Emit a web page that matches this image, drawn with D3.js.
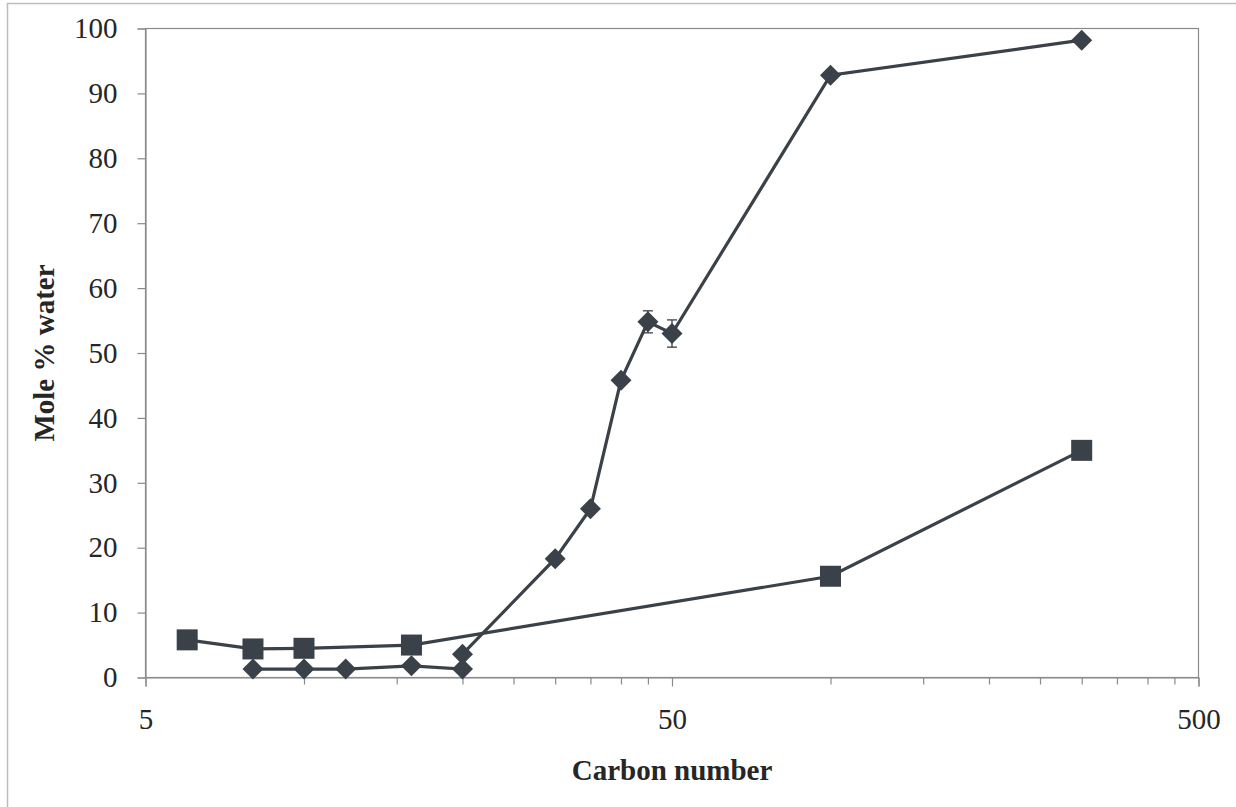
<!DOCTYPE html>
<html>
<head>
<meta charset="utf-8">
<script src="https://cdn.jsdelivr.net/npm/d3@7/dist/d3.min.js"></script>
<style>
  body { margin: 0; background: #fff; }
  svg text { font-family: 'Liberation Serif', 'Times New Roman', serif; }
</style>
</head>
<body>
<div id="chart"></div>
<script>
  // Square series (carbon number, mole % water)
  const squareCarbon = [6, 8, 10, 16, 100, 300];
  const squareWater = [5.8, 4.4, 4.5, 5.0, 15.6, 35.0];

  // Diamond series, with error bars on a couple of points
  const diamondCarbon = [8, 10, 12, 16, 20, 20, 30, 35, 40, 45, 50, 100, 300];
  const diamondWater = [1.3, 1.3, 1.3, 1.8, 1.3, 3.6, 18.3, 26.0, 45.8, 54.8, 53.0, 92.8, 98.2];
  const diamondErr = [0, 0, 0, 0, 0, 0, 0, 0, 0, 1.7, 2.1, 0, 0];

  const xMajorTicks = [5, 50, 500];
  const xMinorTicks = [10, 15, 20, 25, 30, 35, 40, 45, 100, 150, 200, 250, 300, 350, 400, 450];
  const yTicks = [0, 10, 20, 30, 40, 50, 60, 70, 80, 90, 100];

  const W = 1236, H = 807;
  const plot = { left: 145.5, top: 28.5, right: 1198.5, bottom: 677.5 };
  const ink = '#3b4148';
  const serif = "'Liberation Serif', 'Times New Roman', serif";

  const svg = d3.select('#chart').append('svg')
    .attr('width', W)
    .attr('height', H);

  // outer chart border
  svg.append('rect')
    .attr('x', 7.5).attr('y', 3.5)
    .attr('width', W + 20).attr('height', H + 20)
    .attr('fill', 'none')
    .attr('stroke', '#bdbdbd')
    .attr('stroke-width', 1.5);

  const x = d3.scaleLog().domain([5, 500]).range([plot.left, plot.right]);
  const y = d3.scaleLinear().domain([0, 100]).range([plot.bottom, plot.top]);

  // plot area frame
  svg.append('rect')
    .attr('x', plot.left).attr('y', plot.top)
    .attr('width', plot.right - plot.left)
    .attr('height', plot.bottom - plot.top)
    .attr('fill', 'none')
    .attr('stroke', '#8a8a8a')
    .attr('stroke-width', 1.2);

  // y axis
  const yAxis = svg.append('g')
    .attr('transform', `translate(${plot.left},0)`)
    .call(d3.axisLeft(y).tickValues(yTicks).tickSize(8).tickPadding(20));
  yAxis.attr('font-family', null);
  yAxis.select('.domain').attr('stroke', '#8a8a8a').attr('stroke-width', 1.2);
  yAxis.selectAll('.tick line').attr('stroke', '#8a8a8a').attr('stroke-width', 1.2);
  yAxis.selectAll('text')
    .style('font-family', serif)
    .style('font-size', '29px')
    .attr('fill', '#262626');

  // x axis, major ticks with labels
  const xAxis = svg.append('g')
    .attr('transform', `translate(0,${plot.bottom})`)
    .call(d3.axisBottom(x).tickValues(xMajorTicks).tickFormat(d3.format('d')).tickSize(9).tickPadding(22));
  xAxis.attr('font-family', null);
  xAxis.select('.domain').attr('stroke', '#8a8a8a').attr('stroke-width', 1.2);
  xAxis.selectAll('.tick line').attr('stroke', '#8a8a8a').attr('stroke-width', 1.2);
  xAxis.selectAll('text')
    .style('font-family', serif)
    .style('font-size', '29px')
    .attr('fill', '#262626');

  // x minor ticks
  const xMinor = svg.append('g')
    .attr('transform', `translate(0,${plot.bottom})`)
    .call(d3.axisBottom(x).tickValues(xMinorTicks).tickFormat('').tickSize(7));
  xMinor.select('.domain').remove();
  xMinor.selectAll('.tick line').attr('stroke', '#8a8a8a').attr('stroke-width', 1.2);

  // axis titles
  svg.append('text')
    .attr('x', 672)
    .attr('y', 780)
    .attr('text-anchor', 'middle')
    .style('font-family', serif)
    .style('font-size', '29px')
    .attr('font-weight', 'bold')
    .attr('fill', '#262626')
    .text('Carbon number');

  svg.append('text')
    .attr('transform', `translate(54,${(plot.top + plot.bottom) / 2}) rotate(-90)`)
    .attr('text-anchor', 'middle')
    .style('font-family', serif)
    .style('font-size', '29px')
    .attr('font-weight', 'bold')
    .attr('fill', '#262626')
    .text('Mole % water');

  const line = d3.line()
    .x(d => x(d[0]))
    .y(d => y(d[1]));

  const squares = squareCarbon.map((c, i) => [c, squareWater[i]]);
  const diamonds = diamondCarbon.map((c, i) => [c, diamondWater[i], diamondErr[i]]);

  // lines
  svg.append('path')
    .datum(squares)
    .attr('d', line)
    .attr('fill', 'none')
    .attr('stroke', ink)
    .attr('stroke-width', 3.2);

  svg.append('path')
    .datum(diamonds)
    .attr('d', line)
    .attr('fill', 'none')
    .attr('stroke', ink)
    .attr('stroke-width', 3.2);

  // error bars
  const errs = svg.append('g').selectAll('g')
    .data(diamonds.filter(d => d[2] > 0))
    .enter().append('g')
    .attr('stroke', ink)
    .attr('stroke-width', 1.3);
  errs.append('line')
    .attr('x1', d => x(d[0])).attr('x2', d => x(d[0]))
    .attr('y1', d => y(d[1] + d[2])).attr('y2', d => y(d[1] - d[2]));
  errs.append('line')
    .attr('x1', d => x(d[0]) - 5).attr('x2', d => x(d[0]) + 5)
    .attr('y1', d => y(d[1] + d[2])).attr('y2', d => y(d[1] + d[2]));
  errs.append('line')
    .attr('x1', d => x(d[0]) - 5).attr('x2', d => x(d[0]) + 5)
    .attr('y1', d => y(d[1] - d[2])).attr('y2', d => y(d[1] - d[2]));

  // square markers
  svg.append('g').selectAll('rect')
    .data(squares)
    .enter().append('rect')
    .attr('x', d => x(d[0]) - 10.5)
    .attr('y', d => y(d[1]) - 10.5)
    .attr('width', 21)
    .attr('height', 21)
    .attr('fill', ink);

  // diamond markers
  svg.append('g').selectAll('path')
    .data(diamonds)
    .enter().append('path')
    .attr('transform', d => `translate(${x(d[0])},${y(d[1])})`)
    .attr('d', 'M0,-10.5L10.5,0L0,10.5L-10.5,0Z')
    .attr('fill', ink);
</script>
</body>
</html>
